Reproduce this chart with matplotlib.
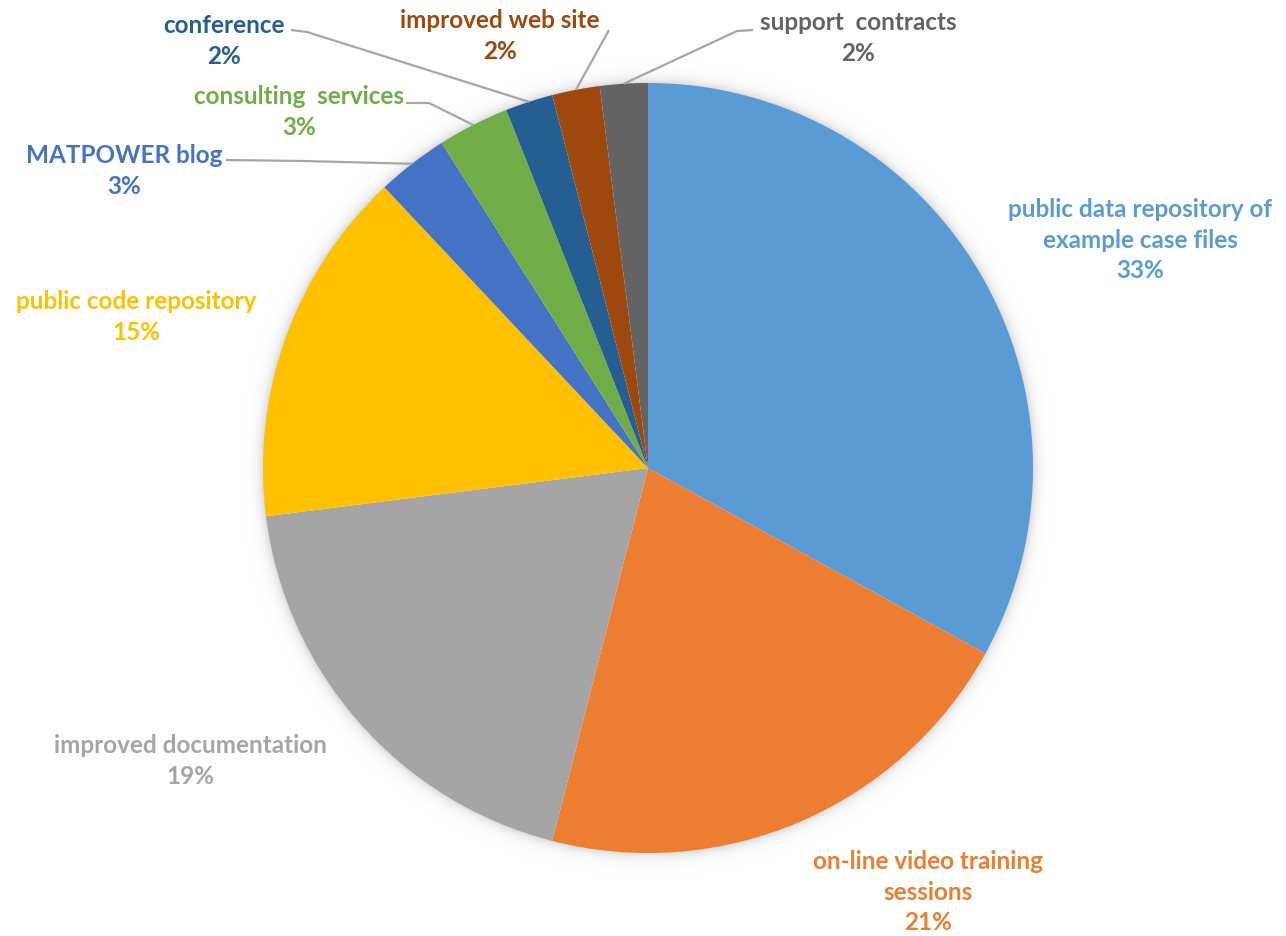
import numpy as np
import matplotlib
matplotlib.use("Agg")
import matplotlib.pyplot as plt

# Survey results: preferred MATPOWER support/services
categories = [
    "public data repository of\nexample case files",
    "on-line video training\nsessions",
    "improved documentation",
    "public code repository",
    "MATPOWER blog",
    "consulting  services",
    "conference",
    "improved web site",
    "support  contracts",
]
shares = [33, 21, 19, 15, 3, 3, 2, 2, 2]
colors = ["#5B9BD5", "#ED7D31", "#A5A5A5", "#FFC000", "#4472C4",
          "#70AD47", "#255E91", "#9E480E", "#636363"]

W, H = 1286, 936
fig = plt.figure(figsize=(W / 100, H / 100), dpi=100)
ax = fig.add_axes([0, 0, 1, 1])

cx, cy, R = 648, H - 468, 385

# soft outer shadow around the pie
yy, xx = np.mgrid[0:H, 0:W]
d = np.hypot(xx + 0.5 - cx, (H - yy - 0.5) - cy)
glow = np.clip(0.32 * np.exp(-np.clip(d - R, 0, None) / 5.5), 0, 1)
glow[d < R - 2] = 0
rgba = np.zeros((H, W, 4))
rgba[..., :3] = 0.55
rgba[..., 3] = glow
ax.imshow(rgba, extent=(0, W, 0, H), origin="upper", zorder=0, interpolation="bilinear")

wedges, _ = ax.pie(shares, colors=colors, startangle=90, counterclock=False,
                   center=(cx, cy), radius=R, frame=True,
                   wedgeprops=dict(linewidth=0))
for w in wedges:
    w.set_zorder(2)
ax.set_xlim(0, W)
ax.set_ylim(0, H)
ax.set_aspect("equal")
ax.axis("off")

font = dict(family=["Lato", "DejaVu Sans"], fontweight="bold", fontsize=17.5)

# label block centres (pixels from the top-left corner)
label_pos = [
    (1140, 240),
    (928, 892),
    (190, 761),
    (136, 317),
    (124, 171),
    (299, 112),
    (224, 41),
    (500, 36),
    (858, 38),
]
# leader line bends leading from each small label towards its wedge
leader_start = {
    4: [(226, 160), (303, 161)],
    5: [(406, 103), (429, 103)],
    6: [(291, 30), (307, 32)],
    7: [(609, 30)],
    8: [(753, 30), (737, 31)],
}

theta = 90.0
total = sum(shares)
for i, (lab, val) in enumerate(zip(categories, shares)):
    span = 360.0 * val / total
    mid = np.deg2rad(theta - span / 2)
    theta -= span
    x, y = label_pos[i]
    ax.text(x, H - y, f"{lab}\n{val}%", color=colors[i], ha="center", va="center",
            linespacing=1.42, zorder=5, **font)
    if i in leader_start:
        px = [p[0] for p in leader_start[i]] + [cx + R * np.cos(mid)]
        py = [H - p[1] for p in leader_start[i]] + [cy + R * np.sin(mid)]
        ax.plot(px, py, color="#A6A6A6", lw=1.6, zorder=3, solid_capstyle="butt")

fig.savefig("out.png", dpi=100, facecolor="white")
